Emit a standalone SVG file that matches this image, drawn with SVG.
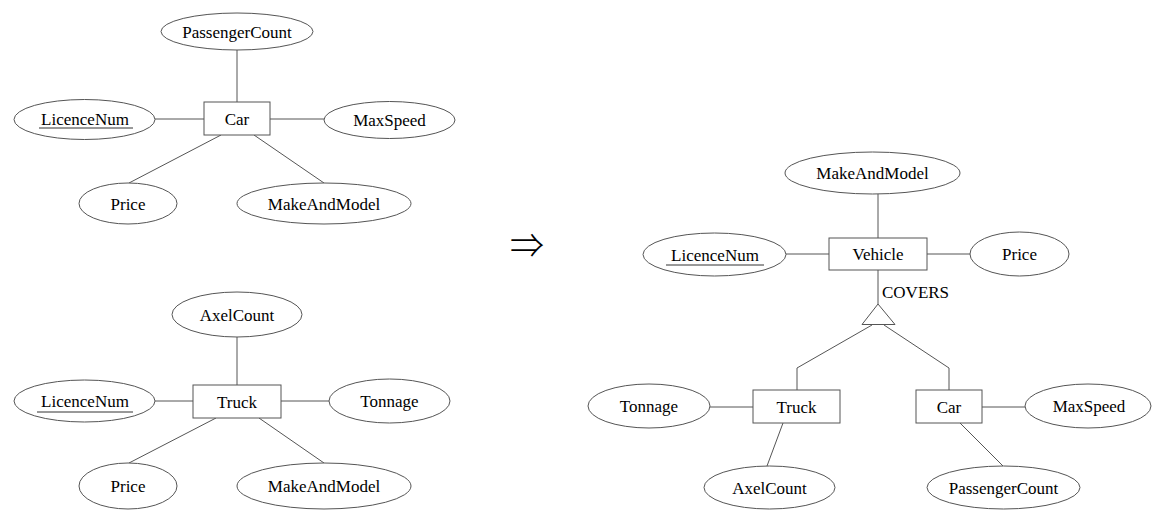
<svg xmlns="http://www.w3.org/2000/svg" width="1162" height="518" viewBox="0 0 1162 518">
<style>
.shape{fill:#fff;stroke:#555;stroke-width:1}
.edge{stroke:#555;stroke-width:1;fill:none}
text{font-family:"Liberation Serif","Times New Roman",serif;font-size:17px;fill:#000;text-anchor:middle}
.ul{stroke:#333;stroke-width:1}
</style>
<rect width="1162" height="518" fill="#fff"/>
<g id="connectors">
<line class="edge" x1="237" y1="50" x2="237" y2="102"/>
<line class="edge" x1="155" y1="119" x2="204" y2="119"/>
<line class="edge" x1="270" y1="119" x2="324" y2="119"/>
<line class="edge" x1="221" y1="135" x2="129" y2="183"/>
<line class="edge" x1="254" y1="135" x2="324" y2="183"/>
<line class="edge" x1="237" y1="337" x2="237" y2="385"/>
<line class="edge" x1="155" y1="401" x2="193" y2="401"/>
<line class="edge" x1="281" y1="401" x2="329" y2="401"/>
<line class="edge" x1="216" y1="418" x2="129" y2="463"/>
<line class="edge" x1="259" y1="418" x2="324" y2="463"/>
<line class="edge" x1="878" y1="194" x2="878" y2="238"/>
<line class="edge" x1="786" y1="254" x2="829" y2="254"/>
<line class="edge" x1="927" y1="254" x2="970" y2="254"/>
<line class="edge" x1="878" y1="270" x2="878" y2="304"/>
<polyline class="edge" points="872,325 797,368 797,390"/>
<polyline class="edge" points="884,325 949,368 949,390"/>
<line class="edge" x1="710" y1="407" x2="753" y2="407"/>
<line class="edge" x1="783" y1="423" x2="767" y2="466"/>
<line class="edge" x1="982" y1="407" x2="1025" y2="407"/>
<line class="edge" x1="960" y1="423" x2="1003" y2="466"/>
</g>
<g id="car-passengercount"><ellipse class="shape" cx="237" cy="31.5" rx="76" ry="18.5"/><text x="237" y="37.5">PassengerCount</text></g>
<g id="car"><rect class="shape" x="204" y="102" width="66" height="33"/><text x="237" y="124.5">Car</text></g>
<g id="car-licencenum"><ellipse class="shape" cx="84.5" cy="119.5" rx="70.5" ry="20"/><text x="85" y="124.5">LicenceNum</text><line class="ul" x1="39" y1="128" x2="133" y2="128"/></g>
<g id="car-maxspeed"><ellipse class="shape" cx="389.5" cy="120" rx="65.5" ry="18.5"/><text x="389.5" y="125.5">MaxSpeed</text></g>
<g id="car-price"><ellipse class="shape" cx="128" cy="203.5" rx="49" ry="20.5"/><text x="128" y="209.5">Price</text></g>
<g id="car-makeandmodel"><ellipse class="shape" cx="324" cy="203.5" rx="87" ry="20.5"/><text x="324" y="209.5">MakeAndModel</text></g>

<g id="truck-axelcount"><ellipse class="shape" cx="237" cy="314.5" rx="65" ry="22.5"/><text x="237" y="320.5">AxelCount</text></g>
<g id="truck"><rect class="shape" x="193" y="385" width="88" height="33"/><text x="237" y="407.5">Truck</text></g>
<g id="truck-licencenum"><ellipse class="shape" cx="84.5" cy="401" rx="70.5" ry="21"/><text x="85" y="406.5">LicenceNum</text><line class="ul" x1="37" y1="412" x2="133" y2="412"/></g>
<g id="truck-tonnage"><ellipse class="shape" cx="389.5" cy="401" rx="60.5" ry="22"/><text x="389.5" y="407">Tonnage</text></g>
<g id="truck-price"><ellipse class="shape" cx="128" cy="486" rx="49" ry="23"/><text x="128" y="492">Price</text></g>
<g id="truck-makeandmodel"><ellipse class="shape" cx="324" cy="486" rx="87" ry="23"/><text x="324" y="492">MakeAndModel</text></g>

<g id="arrow"><text x="527" y="258" style="font-family:'Noto Sans CJK JP','DejaVu Sans',sans-serif;font-size:34px;font-weight:300">⇒</text></g>

<g id="vehicle-makeandmodel"><ellipse class="shape" cx="872.5" cy="173" rx="87.5" ry="21"/><text x="872.5" y="179">MakeAndModel</text></g>
<g id="vehicle"><rect class="shape" x="829" y="238" width="98" height="32"/><text x="878" y="260">Vehicle</text></g>
<g id="vehicle-licencenum"><ellipse class="shape" cx="714.5" cy="254.5" rx="71.5" ry="21.5"/><text x="715" y="260.5">LicenceNum</text><line class="ul" x1="666" y1="265" x2="764" y2="265"/></g>
<g id="vehicle-price"><ellipse class="shape" cx="1019.5" cy="254" rx="49.5" ry="22"/><text x="1019.5" y="260">Price</text></g>
<g id="covers"><polygon class="shape" points="878,304 862,324.5 895,324.5"/><text x="882" y="298" style="text-anchor:start">COVERS</text></g>
<g id="sub-truck"><rect class="shape" x="753" y="390" width="87" height="33"/><text x="796.5" y="412.5">Truck</text></g>
<g id="sub-truck-tonnage"><ellipse class="shape" cx="649" cy="406" rx="61" ry="22"/><text x="649" y="412">Tonnage</text></g>
<g id="sub-truck-axelcount"><ellipse class="shape" cx="769.5" cy="487.5" rx="65.5" ry="21.5"/><text x="769.5" y="493.5">AxelCount</text></g>
<g id="sub-car"><rect class="shape" x="916" y="390" width="66" height="33"/><text x="949" y="412.5">Car</text></g>
<g id="sub-car-maxspeed"><ellipse class="shape" cx="1088" cy="406" rx="63" ry="22"/><text x="1089" y="412">MaxSpeed</text></g>
<g id="sub-car-passengercount"><ellipse class="shape" cx="1003.5" cy="487.5" rx="76.5" ry="21.5"/><text x="1003.5" y="493.5">PassengerCount</text></g>
</svg>
